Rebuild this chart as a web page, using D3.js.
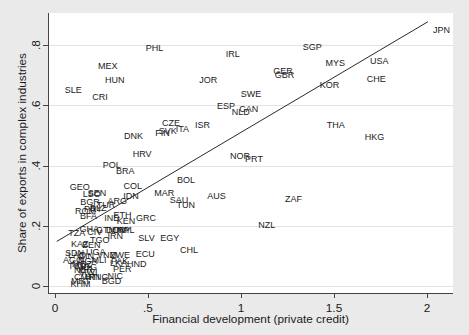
<!DOCTYPE html>
<html lang="en">
<head>
  <meta charset="UTF-8">
  <title>Complex exports vs financial development</title>
  <script src="https://d3js.org/d3.v7.min.js"></script>
  <style>
    body {
      margin: 0;
      background: #eaeaea;
    }
    svg {
      display: block;
      font-family: "Liberation Sans", Arial, sans-serif;
    }
    .lab {
      font-size: 9px;
      fill: #1a1a1a;
    }
    .tick-label, .axis-title {
      font-size: 11.8px;
      fill: #1a1a1a;
    }
  </style>
</head>
<body>
  <svg width="469" height="335"></svg>

  <script>
    // Country codes and their values (private credit, share of complex exports)
    const codes = [
      "JPN","PHL","IRL","SGP","MEX","HUN","JOR","SLE","CRI","GER",
      "GBR","MYS","USA","KOR","CHE","SWE","ESP","CAN","NLD","CZE",
      "SVK","FIN","ITA","ISR","THA","HKG","DNK","HRV","NOR","PRT",
      "POL","BRA","BOL","GEO","COL","LSO","SEN","IDN","MAR","SAU",
      "TUN","AUS","ZAF","NZL","BGR","ARG","TUR","ROM","PRY","BLZ",
      "BFA","IND","ETH","KEN","GRC","TZA","GHA","CIV","GTM","DOM",
      "URY","NPL","IRN","SLV","EGY","TGO","KAZ","BEN","CHL","ZWE",
      "ECU","SDN","LAO","UGA","VNM","GIN","AGO","MLI","NGA","LKA",
      "PAK","HND","MOZ","TCD","MDG","PER","NER","MWI","HTI","CMR",
      "PNG","NIC","BGD","KHM","MRT"
    ];
    const finDev = [
      2.005,0.461,0.891,1.305,0.204,0.242,0.749,0.025,0.174,1.147,
      1.154,1.428,1.667,1.396,1.649,0.972,0.844,0.964,0.923,0.548,
      0.531,0.512,0.622,0.726,1.434,1.638,0.344,0.391,0.914,0.995,
      0.230,0.301,0.629,0.052,0.342,0.122,0.149,0.340,0.507,0.590,
      0.627,0.792,1.210,1.066,0.109,0.256,0.197,0.081,0.129,0.161,
      0.108,0.238,0.287,0.305,0.409,0.045,0.105,0.147,0.194,0.247,
      0.280,0.306,0.256,0.421,0.539,0.161,0.059,0.118,0.645,0.269,
      0.407,0.027,0.043,0.140,0.199,0.097,0.016,0.169,0.097,0.269,
      0.274,0.360,0.065,0.043,0.086,0.285,0.075,0.102,0.134,0.075,
      0.156,0.255,0.224,0.056,0.059
    ];
    const complexShare = [
      0.850,0.792,0.770,0.793,0.731,0.685,0.685,0.653,0.627,0.715,
      0.700,0.740,0.747,0.669,0.687,0.640,0.599,0.590,0.577,0.543,
      0.516,0.509,0.523,0.534,0.534,0.496,0.498,0.439,0.434,0.422,
      0.404,0.381,0.353,0.330,0.333,0.305,0.308,0.300,0.311,0.285,
      0.270,0.299,0.291,0.203,0.281,0.283,0.271,0.249,0.256,0.261,
      0.233,0.227,0.235,0.217,0.228,0.178,0.191,0.179,0.188,0.188,
      0.186,0.186,0.168,0.160,0.160,0.154,0.140,0.138,0.119,0.105,
      0.107,0.110,0.103,0.113,0.105,0.100,0.086,0.086,0.083,0.076,
      0.083,0.075,0.073,0.066,0.063,0.057,0.055,0.047,0.030,0.029,
      0.030,0.035,0.017,0.007,0.017
    ];

    // Fitted values (linear fit), read at the ends of the line
    const fitX = [0.009, 2.005];
    const fitY = [0.148, 0.878];

    // Axis ticks
    const xTicks = [0, 0.5, 1, 1.5, 2];
    const xTickLabels = ["0", ".5", "1", "1.5", "2"];
    const yTicks = [0, 0.2, 0.4, 0.6, 0.8];
    const yTickLabels = ["0", ".2", ".4", ".6", ".8"];

    const points = codes.map((c, i) => ({ id: c, x: finDev[i], y: complexShare[i] }));

    const svg = d3.select("svg");
    const plot = { left: 48, right: 453, top: 13, bottom: 293 };

    const xScale = d3.scaleLinear().domain([0, 2]).range([55, 427]);
    const yScale = d3.scaleLinear().domain([0, 0.8]).range([286, 45.2]);

    // Plot region
    svg.append("rect")
      .attr("x", plot.left)
      .attr("y", plot.top)
      .attr("width", plot.right - plot.left)
      .attr("height", plot.bottom - plot.top)
      .attr("fill", "#fff");

    // Gridlines
    svg.append("g")
      .selectAll("line")
      .data(yTicks)
      .join("line")
      .attr("x1", plot.left)
      .attr("x2", plot.right)
      .attr("y1", d => Math.round(yScale(d)) + 0.5)
      .attr("y2", d => Math.round(yScale(d)) + 0.5)
      .attr("stroke", "#e3e3e3")
      .attr("stroke-width", 1);

    // Axes
    const axisColor = "#444";
    svg.append("line")
      .attr("x1", plot.left + 0.5).attr("x2", plot.left + 0.5)
      .attr("y1", plot.top).attr("y2", plot.bottom)
      .attr("stroke", axisColor);
    svg.append("line")
      .attr("x1", plot.left).attr("x2", plot.right)
      .attr("y1", plot.bottom + 0.5).attr("y2", plot.bottom + 0.5)
      .attr("stroke", axisColor);

    // y ticks + labels
    const yt = svg.append("g").selectAll("g").data(yTicks).join("g");
    yt.append("line")
      .attr("x1", plot.left - 5).attr("x2", plot.left)
      .attr("y1", d => Math.round(yScale(d)) + 0.5)
      .attr("y2", d => Math.round(yScale(d)) + 0.5)
      .attr("stroke", axisColor);
    yt.append("text")
      .attr("class", "tick-label")
      .attr("transform", d => `translate(35.5,${yScale(d)}) rotate(-90)`)
      .attr("text-anchor", "middle")
      .attr("dy", "0.35em")
      .text((d, i) => yTickLabels[i]);

    // x ticks + labels
    const xt = svg.append("g").selectAll("g").data(xTicks).join("g");
    xt.append("line")
      .attr("x1", d => Math.round(xScale(d)) + 0.5)
      .attr("x2", d => Math.round(xScale(d)) + 0.5)
      .attr("y1", plot.bottom).attr("y2", plot.bottom + 5)
      .attr("stroke", axisColor);
    xt.append("text")
      .attr("class", "tick-label")
      .attr("x", d => xScale(d))
      .attr("y", 311.5)
      .attr("text-anchor", "middle")
      .text((d, i) => xTickLabels[i]);

    // Axis titles
    svg.append("text")
      .attr("class", "axis-title")
      .attr("x", (plot.left + plot.right) / 2)
      .attr("y", 322.5)
      .attr("text-anchor", "middle")
      .text("Financial development (private credit)");

    svg.append("text")
      .attr("class", "axis-title")
      .attr("transform", `translate(25.5,${(plot.top + plot.bottom) / 2}) rotate(-90)`)
      .attr("text-anchor", "middle")
      .text("Share of exports in complex industries");

    // Country labels (no marker, label to the right)
    svg.append("g")
      .selectAll("text")
      .data(points)
      .join("text")
      .attr("class", "lab")
      .attr("x", d => xScale(d.x) + 5)
      .attr("y", d => yScale(d.y))
      .attr("dy", "0.35em")
      .text(d => d.id);

    // Fit line
    const line = d3.line()
      .x((d, i) => xScale(fitX[i]))
      .y((d, i) => yScale(fitY[i]));
    svg.append("path")
      .attr("d", line(fitX))
      .attr("fill", "none")
      .attr("stroke", "#2a2a2a")
      .attr("stroke-width", 1);
  </script>
</body>
</html>
